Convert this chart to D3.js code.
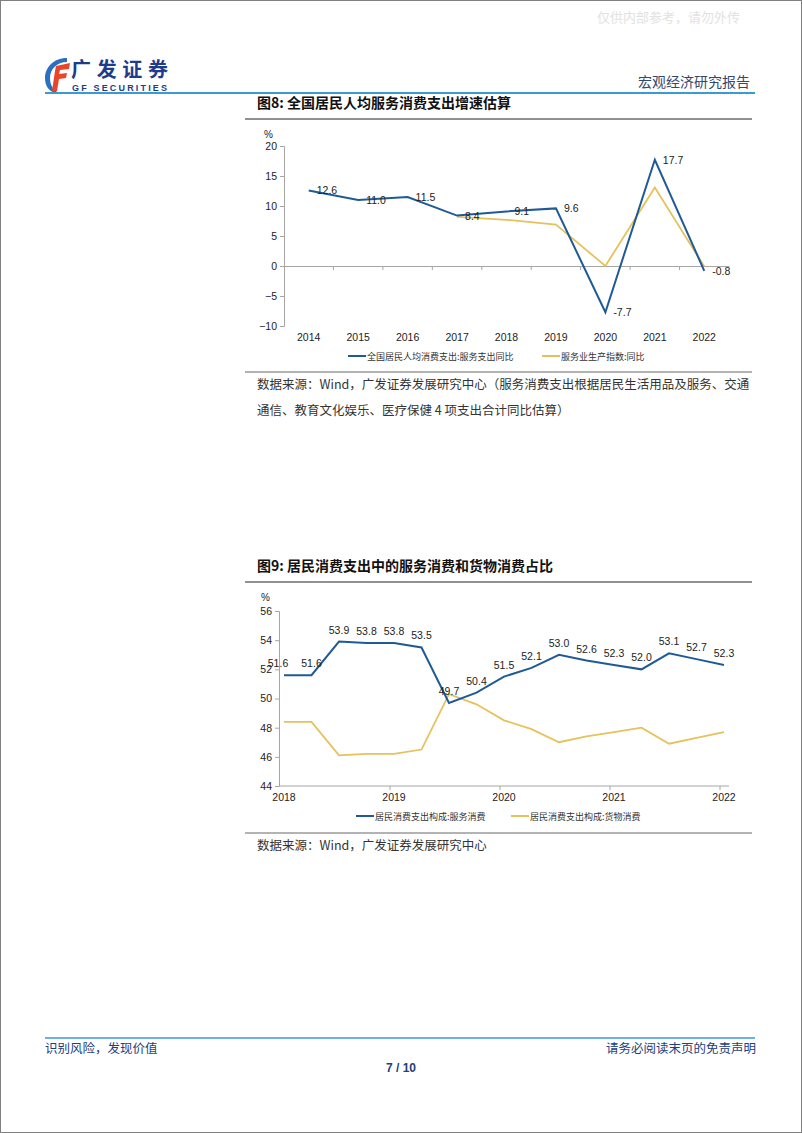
<!DOCTYPE html>
<html>
<head>
<meta charset="utf-8">
<script src="https://cdn.jsdelivr.net/npm/d3@7"></script>
<style>
  html, body { margin: 0; padding: 0; background: #fff; }
  svg { display: block; font-family: "Liberation Sans", Arial, sans-serif; }
  .cjk { font-family: "Noto Sans CJK SC", sans-serif; }
</style>
</head>
<body>
<div id="page"></div>
<script>
// chart 8 data
var years8 = ["2014","2015","2016","2017","2018","2019","2020","2021","2022"];
var serviceSpend = [12.6, 11.0, 11.5, 8.4, 9.1, 9.6, -7.7, 17.7, -0.8];
var serviceIndex = [null, null, null, 8.2, 7.7, 6.9, 0.0, 13.1, -0.1];
var yTicks8 = [20, 15, 10, 5, 0, -5, -10];

// chart 9 data (quarterly, 2018 to 2022)
var quarters9 = d3.range(17);
var serviceShare = [51.6, 51.6, 53.9, 53.8, 53.8, 53.5, 49.7, 50.4, 51.5, 52.1, 53.0, 52.6, 52.3, 52.0, 53.1, 52.7, 52.3];
var goodsShare = [48.4, 48.4, 46.1, 46.2, 46.2, 46.5, 50.3, 49.6, 48.5, 47.9, 47.0, 47.4, 47.7, 48.0, 46.9, 47.3, 47.7];
var yearLabels9 = ["2018","2019","2020","2021","2022"];
var yTicks9 = [56, 54, 52, 50, 48, 46, 44];

var blue = "#1f5a96", yellow = "#e6c15c", axisCol = "#a6a6a6", navy = "#23407a";

var svg = d3.select("#page").append("svg")
  .attr("width", 802).attr("height", 1133);

// page frame
svg.append("rect").attr("x", 0.5).attr("y", 0.5).attr("width", 801).attr("height", 1132)
  .attr("fill", "#fff").attr("stroke", "#808080");

// watermark
svg.append("text").attr("class", "cjk").attr("x", 740).attr("y", 22).attr("text-anchor", "end")
  .attr("font-size", 13).attr("fill", "#e2e2e2").text("仅供内部参考，请勿外传");

// header logo
var logo = svg.append("g").attr("transform", "translate(45,56)");
logo.append("path").attr("d", "M22,2 C8,2 0,12 0,22 C0,31 5,36 11,37 L14,37 C8,34 5,29 5,22 C5,13 12,6 22,6 Z")
  .attr("fill", "#2a6fc0");
logo.append("path").attr("d", "M11,10 L25,7 L24,13 L15,14 L14,18 L22,17 L21,22 L14,23 L12,35 L7,35 L10,15 Z")
  .attr("fill", "#e8452a");
svg.append("text").attr("class", "cjk").attr("x", 71).attr("y", 77).attr("font-size", 20)
  .attr("font-weight", "bold").attr("fill", "#1e3c8c").attr("textLength", 97).text("广发证券");
svg.append("text").attr("x", 72).attr("y", 91).attr("font-size", 9).attr("font-weight", "bold")
  .attr("fill", "#1e3c8c").attr("textLength", 95).text("GF SECURITIES");
svg.append("text").attr("class", "cjk").attr("x", 750).attr("y", 87).attr("text-anchor", "end")
  .attr("font-size", 14).attr("fill", "#34486c").text("宏观经济研究报告");
svg.append("line").attr("x1", 45).attr("x2", 755).attr("y1", 93).attr("y2", 93)
  .attr("stroke", "#3a9ad6").attr("stroke-width", 2);

// footer
svg.append("line").attr("x1", 45).attr("x2", 755).attr("y1", 1038).attr("y2", 1038)
  .attr("stroke", "#3a9ad6").attr("stroke-width", 1.5);
svg.append("text").attr("class", "cjk").attr("x", 45).attr("y", 1053).attr("font-size", 12.5)
  .attr("fill", navy).text("识别风险，发现价值");
svg.append("text").attr("class", "cjk").attr("x", 756).attr("y", 1053).attr("text-anchor", "end")
  .attr("font-size", 12.5).attr("fill", navy).text("请务必阅读末页的免责声明");
svg.append("text").attr("x", 401).attr("y", 1072).attr("text-anchor", "middle").attr("font-size", 12)
  .attr("font-weight", "bold").attr("fill", navy).text("7 / 10");

function title(y, label) {
  svg.append("text").attr("class", "cjk").attr("x", 257).attr("y", y).attr("font-size", 14)
    .attr("font-weight", "bold").attr("fill", "#111").text(label);
  svg.append("line").attr("x1", 245).attr("x2", 752).attr("y1", y + 11).attr("y2", y + 11)
    .attr("stroke", "#222").attr("stroke-width", 1.2);
}

function legend(y, items) {
  items.forEach(function(it) {
    svg.append("line").attr("x1", it.x).attr("x2", it.x + 18).attr("y1", y).attr("y2", y)
      .attr("stroke", it.color).attr("stroke-width", 2);
    svg.append("text").attr("class", "cjk").attr("x", it.x + 19).attr("y", y + 3.5)
      .attr("font-size", 9).attr("fill", "#333").text(it.label);
  });
}

function source(y, lines) {
  svg.append("line").attr("x1", 245).attr("x2", 752).attr("y1", y - 12).attr("y2", y - 12)
    .attr("stroke", "#9a9a9a").attr("stroke-width", 1.5);
  lines.forEach(function(l, i) {
    svg.append("text").attr("class", "cjk").attr("x", 257).attr("y", y + 5 + i * 26)
      .attr("font-size", 12.5).attr("fill", "#333").text(l);
  });
}

// ---------- chart 8 ----------
title(108, "图8: 全国居民人均服务消费支出增速估算");

var x8 = d3.scaleBand().domain(years8).range([284, 729]);
var y8 = d3.scaleLinear().domain([-10, 20]).range([326, 146]);

var g8 = svg.append("g");
g8.append("text").attr("x", 264).attr("y", 138).attr("font-size", 10).attr("fill", "#222").text("%");

var yAx8 = g8.append("g").attr("transform", "translate(284,0)")
  .call(d3.axisLeft(y8).tickValues(yTicks8).tickSize(4).tickPadding(3).tickFormat(d3.format("d")));
var xAx8 = g8.append("g").attr("transform", "translate(0," + y8(0) + ")")
  .call(d3.axisBottom(x8).tickSize(0).tickFormat(""));
g8.append("g").selectAll("line").data(years8.slice(1)).join("line")
  .attr("x1", function(d) { return x8(d); }).attr("x2", function(d) { return x8(d); })
  .attr("y1", y8(0)).attr("y2", y8(0) + 4).attr("stroke", axisCol);
g8.append("g").selectAll("text").data(years8).join("text")
  .attr("x", function(d) { return x8(d) + x8.bandwidth() / 2; }).attr("y", 341)
  .attr("text-anchor", "middle").attr("font-size", 10.5).attr("fill", "#222").text(function(d) { return d; });

[yAx8, xAx8].forEach(function(a) {
  a.selectAll("path,line").attr("stroke", axisCol);
  a.selectAll("text").attr("font-size", 10.5).attr("fill", "#222").attr("font-family", "Liberation Sans, Arial");
});

var line8 = d3.line()
  .defined(function(d) { return d[1] != null; })
  .x(function(d) { return x8(d[0]) + x8.bandwidth() / 2; })
  .y(function(d) { return y8(d[1]); });

g8.append("path").datum(d3.zip(years8, serviceIndex)).attr("d", line8)
  .attr("fill", "none").attr("stroke", yellow).attr("stroke-width", 1.8);
g8.append("path").datum(d3.zip(years8, serviceSpend)).attr("d", line8)
  .attr("fill", "none").attr("stroke", blue).attr("stroke-width", 2);

g8.append("g").selectAll("text").data(d3.zip(years8, serviceSpend)).join("text")
  .attr("x", function(d) { return x8(d[0]) + x8.bandwidth() / 2 + 8; })
  .attr("y", function(d) { return y8(d[1]) + 4; })
  .attr("font-size", 10.5).attr("fill", "#222").text(function(d) { return d[1].toFixed(1); });

legend(356, [
  { x: 348, color: blue, label: "全国居民人均消费支出:服务支出同比" },
  { x: 542, color: yellow, label: "服务业生产指数:同比" }
]);
source(384, [
  "数据来源：Wind，广发证券发展研究中心（服务消费支出根据居民生活用品及服务、交通",
  "通信、教育文化娱乐、医疗保健 4 项支出合计同比估算）"
]);

// ---------- chart 9 ----------
title(571, "图9: 居民消费支出中的服务消费和货物消费占比");

var x9 = d3.scaleLinear().domain([0, 16]).range([284, 724]);
var y9 = d3.scaleLinear().domain([44, 56]).range([786, 611]);

var g9 = svg.append("g");
g9.append("text").attr("x", 261).attr("y", 601).attr("font-size", 10).attr("fill", "#222").text("%");

var yAx9 = g9.append("g").attr("transform", "translate(279,0)")
  .call(d3.axisLeft(y9).tickValues(yTicks9).tickSize(4).tickPadding(3).tickFormat(d3.format("d")));
yAx9.selectAll("path,line").attr("stroke", axisCol);
yAx9.selectAll("text").attr("font-size", 10.5).attr("fill", "#222").attr("font-family", "Liberation Sans, Arial");

g9.append("line").attr("x1", 279).attr("x2", 729).attr("y1", y9(44)).attr("y2", y9(44)).attr("stroke", axisCol);
g9.append("g").selectAll("line").data(yearLabels9.slice(1)).join("line")
  .attr("x1", function(d, i) { return x9((i + 1) * 4) - 4; }).attr("x2", function(d, i) { return x9((i + 1) * 4) - 4; })
  .attr("y1", y9(44)).attr("y2", y9(44) + 4).attr("stroke", axisCol);
g9.append("g").selectAll("text").data(yearLabels9).join("text")
  .attr("x", function(d, i) { return x9(i * 4); }).attr("y", 801)
  .attr("text-anchor", "middle").attr("font-size", 10.5).attr("fill", "#222").text(function(d) { return d; });

var line9 = d3.line().x(function(d) { return x9(d[0]); }).y(function(d) { return y9(d[1]); });
g9.append("path").datum(d3.zip(quarters9, goodsShare)).attr("d", line9)
  .attr("fill", "none").attr("stroke", yellow).attr("stroke-width", 1.8);
g9.append("path").datum(d3.zip(quarters9, serviceShare)).attr("d", line9)
  .attr("fill", "none").attr("stroke", blue).attr("stroke-width", 2);

g9.append("g").selectAll("text").data(d3.zip(quarters9, serviceShare)).join("text")
  .attr("x", function(d) { return x9(d[0]) - (d[0] === 0 ? 6 : 0); })
  .attr("y", function(d) { return y9(d[1]) - 8; })
  .attr("text-anchor", "middle").attr("font-size", 10.5).attr("fill", "#222").text(function(d) { return d[1].toFixed(1); });

legend(816, [
  { x: 356, color: blue, label: "居民消费支出构成:服务消费" },
  { x: 511, color: yellow, label: "居民消费支出构成:货物消费" }
]);
source(845, ["数据来源：Wind，广发证券发展研究中心"]);
</script>
</body>
</html>
